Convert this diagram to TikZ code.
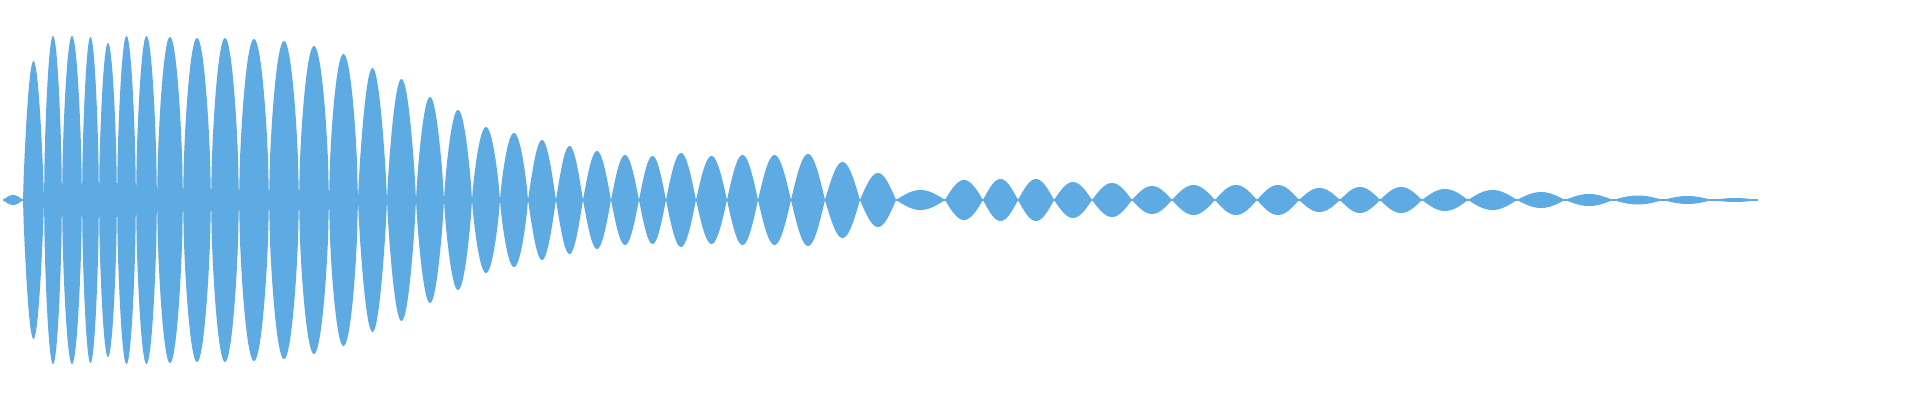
\documentclass[tikz,border=0pt]{standalone}
\definecolor{WaveBlue}{RGB}{93,171,226}
\begin{document}
\begin{tikzpicture}[x=0.01cm,y=-0.01cm]
\def\mid{200}
\useasboundingbox (0,0) rectangle (1920,400);

% each lobe: start/end/amplitude (pixels)
\foreach \xa/\xb/\amp in {3/23/5, 23/44/139, 44/62/164, 62/82/164, 82/99/163,
	99/117/157, 117/136/164, 136/157/164, 157/183/163, 183/211/162,
	211/239/162, 239/269/161, 269/299/159, 299/329/154, 329/358/146,
	358/387/132, 387/416/121, 416/444/103, 444/472/90, 472/500/73,
	500/528/67, 528/556/60, 556/583/54, 583/611/49, 611/639/45,
	639/666/44, 666/696/47, 696/727/44, 727/758/45, 758/791/45,
	791/825/46, 825/860/38, 860/896/27, 896/945/10, 945/983/20,
	983/1018/21, 1018/1054/21, 1054/1092/18, 1092/1132/17, 1132/1172/14,
	1172/1215/15, 1215/1257/15, 1257/1299/15, 1299/1340/12, 1340/1380/13,
	1380/1422/13, 1422/1468/11, 1468/1517/10, 1517/1565/8, 1565/1613/6,
	1613/1663/4.5, 1663/1712/4, 1712/1758/2}
	{
	\pgfmathsetmacro\w{\xb-\xa}
	% fuller tops for the big lobes, pointed lenses for the small ones
	\pgfmathsetmacro\shape{\amp>140 ? 0.6 : (\amp>60 ? 0.8 : 1.0)}
	\fill[WaveBlue] plot[domain=0:180,samples=31] ({\xa+\w*\x/180},{\mid-\amp*sin(\x)^\shape})
		-- plot[domain=180:0,samples=31] ({\xa+\w*\x/180},{\mid+\amp*sin(\x)^\shape}) -- cycle;
	}
% thin centre line through the crossings
\fill[WaveBlue] (3,\mid-1) rectangle (1758,\mid+1);
\end{tikzpicture}
\end{document}
